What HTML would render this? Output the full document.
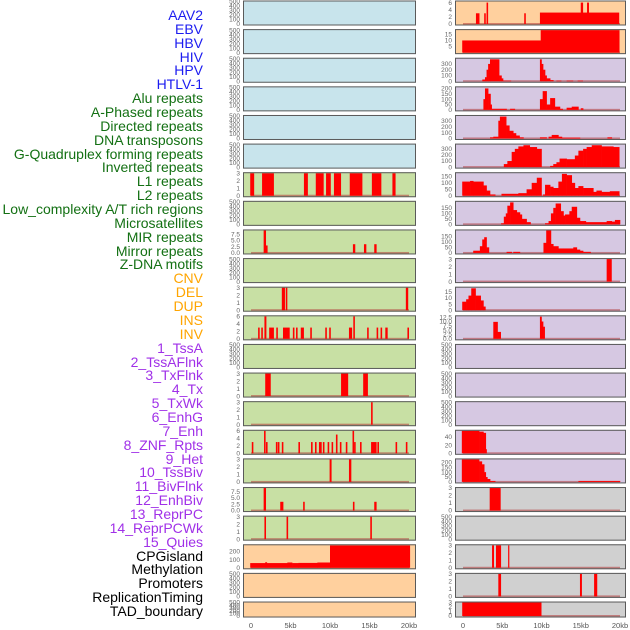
<!DOCTYPE html>
<html><head><meta charset="utf-8">
<style>
html,body{margin:0;padding:0;background:#fff;}
#wrap{position:relative;width:630px;height:630px;overflow:hidden;font-family:"Liberation Sans",sans-serif;}
.lab{position:absolute;right:427px;font-size:14px;line-height:14px;white-space:nowrap;}
svg{position:absolute;left:0;top:0;}
</style></head>
<body>
<div id="wrap">
<div id="labels"></div>
<svg id="chart" width="630" height="630"></svg>
</div>
<script>
// ---------- data (kb coordinates) ----------
const labelNames = ["AAV2","EBV","HBV","HIV","HPV","HTLV-1","Alu repeats","A-Phased repeats","Directed repeats","DNA transposons","G-Quadruplex forming repeats","Inverted repeats","L1 repeats","L2 repeats","Low_complexity A/T rich regions","Microsatellites","MIR repeats","Mirror repeats","Z-DNA motifs","CNV","DEL","DUP","INS","INV","1_TssA","2_TssAFlnk","3_TxFlnk","4_Tx","5_TxWk","6_EnhG","7_Enh","8_ZNF_Rpts","9_Het","10_TssBiv","11_BivFlnk","12_EnhBiv","13_ReprPC","14_ReprPCWk","15_Quies","CPGisland","Methylation","Promoters","ReplicationTiming","TAD_boundary"];
const labelGroups = ["virus","virus","virus","virus","virus","virus","rep","rep","rep","rep","rep","rep","rep","rep","rep","rep","rep","rep","rep","sv","sv","sv","sv","sv","chr","chr","chr","chr","chr","chr","chr","chr","chr","chr","chr","chr","chr","chr","chr","oth","oth","oth","oth","oth"];

// spike-type tracks: starts, ends, values
const aluS=[-0.1,1.4,6.7,8.2,9.5,10.5,12.5,15.3,17.9], aluE=[0.4,2.9,7.2,9.2,10.1,11.4,14.1,16.5,18.3], aluV=[3,3,3,3,3,3,3,3,3];
const dirS=[1.6,1.9,12.9,14.3,15.6], dirE=[1.9,2.1,13.2,14.6,15.9], dirV=[9,3,3.5,3.5,3.5];
const gqS=[3.9,4.4,19.6], gqE=[4.3,4.6,19.9], gqV=[3,3,3];
const invS=[0.9,1.3,1.7,2.3,3.2,4.05,5.3,5.7,6.3,7.5,9.4,9.9,12.4,12.95,14.7,15.9,16.4,17.0,19.8];
const invE=[1.1,1.5,1.95,2.9,3.4,4.9,5.5,5.9,6.7,7.7,9.6,10.1,12.8,13.15,14.9,16.1,16.6,17.3,20.0];
const invV=[3,3,6,3,3,3,3,3,3,3,3,3,3,6,3,3,3,3,3];
const l2S=[1.8,11.4,14.2], l2E=[2.5,12.3,14.8], l2V=[3,3,3];
const lcS=[15.2], lcE=[15.4], lcV=[3];
const msS=[0.1,1.65,1.9,3.15,3.4,3.9,6.0,7.6,8.1,8.6,9.1,9.7,10.2,10.75,11.25,12.0,12.85,13.05,13.8,15.2,16.0,18.3,19.6];
const msE=[0.3,1.85,2.1,3.35,3.6,4.1,6.2,7.8,8.3,8.95,9.3,9.9,10.4,10.95,11.45,12.2,13.05,13.25,14.0,15.9,16.2,18.5,19.8];
const msV=[3,6,3,3,3,3,3,3,3,3,3,3,3,5,3,3,6,3,3,3,3,3,3];
const mirS=[9.95,12.4], mirE=[10.2,12.7], mirV=[3,3];
const mrS=[1.6,3.7,6.6,12.9,15.6], mrE=[1.9,4.1,6.8,13.1,15.9], mrV=[9,3.5,3.5,3.5,3.5];
const zdS=[1.7,4.5,15.1], zdE=[1.9,4.7,15.3], zdV=[3,3,3];
const insS=[1.65,2.7,3.0,7.8,9.8,15.0,15.8], insE=[2.1,2.9,3.2,8.0,19.9,15.3,16.05], insV=[3,3,6,3,3.2,6,6];
const znfS=[18.3], znfE=[18.95], znfV=[3];
const cpgS=[3.4], cpgE=[4.8], cpgV=[3];
const proS=[3.7,4.2,5.75], proE=[3.95,4.85,5.9], proV=[3,3,3];
const rtS=[4.5,14.9,16.7], rtE=[4.85,15.15,17.1], rtV=[3,3,3];
const tadS=[-0.1], tadE=[10.0], tadV=[3];

// profile-type tracks: edges, values
const cnvX=[-0.1,1.8,2.0,4.6,5.2,6.0,8.4,10.0,20.1], cnvV=[58,68,58,65,58,60,65,275];
const invvX=[-0.1,9.9,19.9], invvV=[10,18.5];
const tssaX=[2.46,2.8,3.0,3.2,3.44,4.6,4.9,5.1,6.1,9.8,10.0,10.2,10.45,10.65,11.1,11.5,11.9,12.5,13.2,14.0,14.6,15.25];
const tssaV=[30,70,200,300,380,100,50,10,0,380,300,200,100,50,20,0,10,0,10,0,10];
const tfX=[2.6,2.8,3.2,3.5,3.65,5.55,6.0,6.6,9.8,10.15,10.65,11.1,11.7,12.35,12.7,13.2,13.85,14.7,15.0,15.3];
const tfV=[100,200,150,50,10,0,10,0,100,175,50,110,30,10,0,20,30,0,15];
const txfX=[3.44,3.86,4.5,4.7,5.5,5.9,6.4,6.75,7.2,7.7,9.8,10.65,10.9,11.3,12.15,12.6,14.9,18.4,18.95];
const txfV=[20,30,300,370,220,130,90,50,20,0,20,0,30,60,30,15,0,20];
const txX=[5.2,5.65,6.2,6.6,7.05,7.7,8.5,9.4,10.0,11.1,11.5,11.9,12.3,13.2,14.25,14.7,15.3,15.75,16.4,17.65,19.15,19.9];
const txV=[50,100,250,300,340,360,330,300,0,20,50,80,140,130,190,270,300,330,360,340,330];
const txwX=[-0.1,0.9,1.3,2.6,3.0,3.44,4.1,4.9,7.05,8.1,8.75,9.4,10.0,10.2,10.45,11.1,11.5,12.15,12.6,13.2,13.85,14.25,14.7,15.3,16.6,17.0,17.65,18.7,19.9];
const txwV=[110,115,110,80,40,10,0,15,20,50,100,140,0,10,85,70,60,110,170,160,100,60,75,60,30,40,30,35];
const enhgX=[4.85,5.2,5.45,5.65,6.0,6.4,6.85,7.25,7.5,8.1,8.6,10.45,10.9,11.2,11.5,11.8,12.45,12.8,13.0,13.55,13.85,14.5,14.9,15.65,18.3,18.95,19.35,20.0];
const enhgV=[10,70,100,170,200,130,110,90,50,20,0,10,30,100,150,190,120,80,90,120,160,60,30,20,30,25,40];
const enhX=[1.3,2.15,2.45,2.7,3.0,3.3,5.55,6.2,6.4,7.25,10.25,10.6,11.2,11.5,12.15,12.8,14.05,14.5,14.9,15.3,16.25];
const enhV=[20,60,120,140,50,0,10,0,10,0,90,200,80,60,40,40,50,30,20,10];
const hetX=[-0.1,0.4,0.7,1.05,1.6,2.25,2.6,2.85], hetV=[7,9,12,18,12,8,3];
const tbX=[3.86,4.4,4.8,9.8,10.0,10.2,10.4], tbV=[9.8,4,0,12.8,10,7];
const rpwX=[-0.15,2.05,2.6,2.9,3.0], rpwV=[55,53,50,10];
const qX=[-0.15,2.05,2.4,2.7,2.9,3.1,3.45,4.1,14.7,20.0], qV=[230,210,180,100,50,30,10,0,10];

// tick label sets
const tEmpty=["0","100","200","300","400","500"], tEmptyV=[0,100,200,300,400,500];
const t3=["0","1","2","3"], t3V=[0,1,2,3];
const t6=["0","2","4","6"], t6V=[0,2,4,6];
const t75=["0.0","2.5","5.0","7.5"], t75V=[0,2.5,5,7.5];
const xTickV=[0,5,10,15,20], xTickL=["0","5kb","10kb","15kb","20kb"];

// ---------- layout ----------
const BLUE="#c8e4ec", GREEN="#c8e0a4", ORANGE="#ffd09e", PURPLE="#d6c8e2", GREY="#d0d0d0";
const E={ymax:500,tv:tEmptyV,tl:tEmpty};
const panels=[
 // left column
 Object.assign({c:0,r:0,bg:BLUE},E),Object.assign({c:0,r:1,bg:BLUE},E),Object.assign({c:0,r:2,bg:BLUE},E),
 Object.assign({c:0,r:3,bg:BLUE},E),Object.assign({c:0,r:4,bg:BLUE},E),Object.assign({c:0,r:5,bg:BLUE},E),
 {c:0,r:6,bg:GREEN,ymax:3,tv:t3V,tl:t3,s:aluS,e:aluE,v:aluV},
 Object.assign({c:0,r:7,bg:GREEN},E),
 {c:0,r:8,bg:GREEN,ymax:9,tv:t75V,tl:t75,s:dirS,e:dirE,v:dirV},
 Object.assign({c:0,r:9,bg:GREEN},E),
 {c:0,r:10,bg:GREEN,ymax:3,tv:t3V,tl:t3,s:gqS,e:gqE,v:gqV},
 {c:0,r:11,bg:GREEN,ymax:6,tv:t6V,tl:t6,s:invS,e:invE,v:invV},
 Object.assign({c:0,r:12,bg:GREEN},E),
 {c:0,r:13,bg:GREEN,ymax:3,tv:t3V,tl:t3,s:l2S,e:l2E,v:l2V},
 {c:0,r:14,bg:GREEN,ymax:3,tv:t3V,tl:t3,s:lcS,e:lcE,v:lcV},
 {c:0,r:15,bg:GREEN,ymax:6,tv:t6V,tl:t6,s:msS,e:msE,v:msV},
 {c:0,r:16,bg:GREEN,ymax:3,tv:t3V,tl:t3,s:mirS,e:mirE,v:mirV},
 {c:0,r:17,bg:GREEN,ymax:9,tv:t75V,tl:t75,s:mrS,e:mrE,v:mrV},
 {c:0,r:18,bg:GREEN,ymax:3,tv:t3V,tl:t3,s:zdS,e:zdE,v:zdV},
 {c:0,r:19,bg:ORANGE,ymax:277,tv:[0,100,200],tl:["0","100","200"],x:cnvX,pv:cnvV},
 Object.assign({c:0,r:20,bg:ORANGE},E),Object.assign({c:0,r:21,bg:ORANGE},E),
 // right column
 {c:1,r:0,bg:ORANGE,ymax:6.3,tv:t6V,tl:t6,s:insS,e:insE,v:insV},
 {c:1,r:1,bg:ORANGE,ymax:18.5,tv:[5,10,15],tl:["5","10","15"],x:invvX,pv:invvV},
 {c:1,r:2,bg:PURPLE,ymax:390,tv:[0,100,200,300],tl:["0","100","200","300"],x:tssaX,pv:tssaV},
 {c:1,r:3,bg:PURPLE,ymax:210,tv:[0,50,100,150,200],tl:["0","50","100","150","200"],x:tfX,pv:tfV},
 {c:1,r:4,bg:PURPLE,ymax:380,tv:[0,100,200,300],tl:["0","100","200","300"],x:txfX,pv:txfV},
 {c:1,r:5,bg:PURPLE,ymax:370,tv:[0,100,200,300],tl:["0","100","200","300"],x:txX,pv:txV},
 {c:1,r:6,bg:PURPLE,ymax:175,tv:[0,50,100,150],tl:["0","50","100","150"],x:txwX,pv:txwV},
 {c:1,r:7,bg:PURPLE,ymax:205,tv:[0,50,100,150],tl:["0","50","100","150"],x:enhgX,pv:enhgV},
 {c:1,r:8,bg:PURPLE,ymax:200,tv:[0,50,100,150],tl:["0","50","100","150"],x:enhX,pv:enhV},
 {c:1,r:9,bg:PURPLE,ymax:3,tv:t3V,tl:t3,s:znfS,e:znfE,v:znfV},
 {c:1,r:10,bg:PURPLE,ymax:18.5,tv:[0,5,10,15],tl:["0","5","10","15"],x:hetX,pv:hetV},
 {c:1,r:11,bg:PURPLE,ymax:13,tv:[0,2.5,5,7.5,10,12.5],tl:["0.0","2.5","5.0","7.5","10.0","12.5"],x:tbX,pv:tbV},
 Object.assign({c:1,r:12,bg:PURPLE},E),Object.assign({c:1,r:13,bg:PURPLE},E),Object.assign({c:1,r:14,bg:PURPLE},E),
 {c:1,r:15,bg:PURPLE,ymax:55,tv:[0,20,40],tl:["0","20","40"],x:rpwX,pv:rpwV},
 {c:1,r:16,bg:PURPLE,ymax:230,tv:[0,50,100,150,200],tl:["0","50","100","150","200"],x:qX,pv:qV},
 {c:1,r:17,bg:GREY,ymax:3,tv:t3V,tl:t3,s:cpgS,e:cpgE,v:cpgV},
 Object.assign({c:1,r:18,bg:GREY},E),
 {c:1,r:19,bg:GREY,ymax:3,tv:t3V,tl:t3,s:proS,e:proE,v:proV},
 {c:1,r:20,bg:GREY,ymax:3,tv:t3V,tl:t3,s:rtS,e:rtE,v:rtV},
 {c:1,r:21,bg:GREY,ymax:3,tv:t3V,tl:t3,s:tadS,e:tadE,v:tadV}
];

const NS="http://www.w3.org/2000/svg";
const svg=document.getElementById('chart');
const colX=[{l:243,r:416,x0:251,k:7.9},{l:455,r:626,x0:463,k:7.85}];
function rowTop(r){return 0.5+r*28.62;}
function rowH(r){return r===21?16:25;}
function xs(c,kb){return colX[c].x0+kb*colX[c].k;}
function mk(tag,attrs,parent){const el=document.createElementNS(NS,tag);for(const a in attrs)el.setAttribute(a,attrs[a]);(parent||svg).appendChild(el);return el;}

// labels
const lcol={virus:"#1c1cf0",rep:"#137013",sv:"#ffa500",chr:"#a030e8",oth:"#000"};
const labDiv=document.getElementById('labels');
labelNames.forEach((n,i)=>{
  const d=document.createElement('div');
  d.className='lab';
  d.textContent=n;
  d.style.top=(8+i*13.86)+'px';
  d.style.color=lcol[labelGroups[i]];
  
  
  labDiv.appendChild(d);
});

panels.forEach(p=>{
  const C=colX[p.c], top=rowTop(p.r), h=rowH(p.r);
  const g=mk('g',{});
  
  
  const bg=mk('rect',{x:C.l,y:top,width:C.r-C.l,height:h,fill:p.bg},g);
  
  
  const ybase=top+h-1.5, span=h-2.5;
  const ys=v=>ybase-(v/p.ymax)*span;
  // ticks
  p.tv.forEach((tv,i)=>{
    const t=mk('text',{x:C.l-3,y:ys(tv)+2.2,'font-size':6.5,fill:'#666','text-anchor':'end','font-family':'Liberation Sans, sans-serif'},g);
    t.textContent=p.tl[i];
    
    
  });
  const hasData=!!(p.s||p.x);
  if(hasData){
    const bl=mk('rect',{x:xs(p.c,0),y:ybase-1,width:xs(p.c,20)-xs(p.c,0),height:1.6,fill:'#b03838',opacity:0.55},g);
    
    
  }
  if(p.s){
    p.s.forEach((s,i)=>{
      const x1=xs(p.c,s), x2=xs(p.c,p.e[i]);
      const b=mk('rect',{x:x1,y:ys(p.v[i]),width:Math.max(1.2,x2-x1),height:ybase-ys(p.v[i]),fill:'#ff0000'},g);
      
      
    });
  }
  if(p.x){
    p.pv.forEach((v,i)=>{
      if(v<=0)return;
      const x1=xs(p.c,p.x[i]), x2=xs(p.c,p.x[i+1]);
      const b=mk('rect',{x:x1,y:ys(v),width:x2-x1+0.3,height:ybase-ys(v),fill:'#ff0000'},g);
      
      
    });
  }
  const br=mk('rect',{x:C.l+0.5,y:top+0.5,width:C.r-C.l-1,height:h-1,fill:'none',stroke:'#5a5a5a','stroke-width':1},g);
  
  
});

// x axes
[0,1].forEach(c=>{
  xTickV.forEach((v,i)=>{
    const t=mk('text',{x:xs(c,v),y:628,'font-size':7.5,fill:'#555','text-anchor':'middle','font-family':'Liberation Sans, sans-serif'});
    t.textContent=xTickL[i];
    
    
  });
});
</script>
</body></html>
